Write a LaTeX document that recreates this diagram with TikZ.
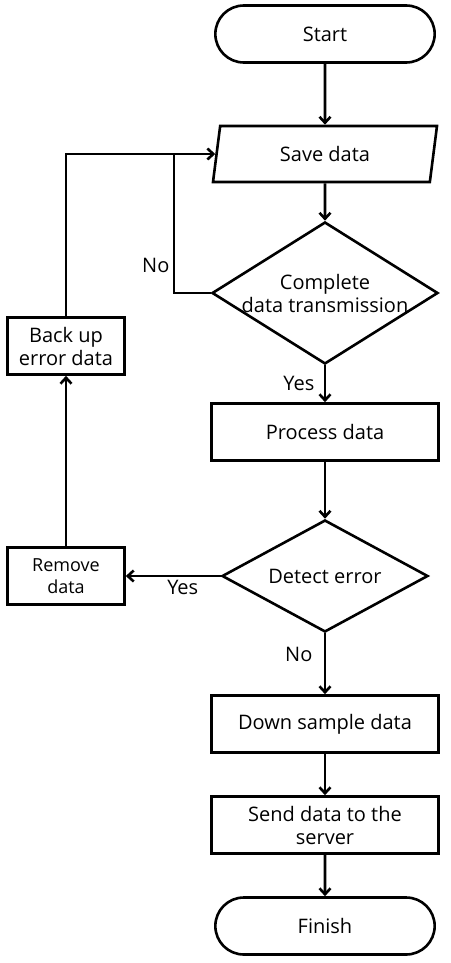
\documentclass[tikz,border=0pt]{standalone}
\usepackage{fontspec}
\setmainfont{Open Sans}
\usetikzlibrary{arrows,arrows.meta,positioning,shapes}
\tikzstyle{terminal}=[rounded rectangle,draw,line width=2.6pt,minimum width=226pt,minimum height=57pt]
\tikzstyle{io}=[trapezium,trapezium left angle=72,trapezium right angle=108,
	trapezium stretches body,draw,line width=2.6pt,minimum width=224pt,minimum height=56pt]
\tikzstyle{process}=[rectangle,draw,line width=2.6pt,minimum width=227pt,minimum height=57pt,align=center]
\tikzstyle{decision}=[diamond,draw,line width=2.6pt,inner sep=-10pt,aspect=1.6,align=center]
\tikzstyle{side}=[rectangle,draw,line width=2.6pt,minimum width=117pt,minimum height=57pt,align=center]
\tikzstyle{flow}=[->,>={Straight Barb[length=6pt,width=11pt]},line width=2.6pt]

\begin{document}
\begin{tikzpicture}[x=1pt,y=-1pt,font=\fontsize{20}{23}\selectfont]
	\useasboundingbox (0,0) rectangle (450,963);

	\node[terminal] (start) at (325,34) {Start};
	\node[io] (save) at (325,154) {Save data};
	\node[decision,minimum width=226pt,minimum height=142pt] (check) at (325,293) {Complete\\data transmission};
	\node[process] (proc) at (325,432) {Process data};
	\node[decision,minimum width=206pt,minimum height=112pt] (detect) at (325,576) {Detect error};
	\node[process] (down) at (325,724) {Down sample data};
	\node[process] (send) at (325,825) {Send data to the\\server};
	\node[terminal] (finish) at (325,926) {Finish};
	\node[side] (backup) at (66,346) {Back up\\error data};
	\node[side,font=\fontsize{18}{22}\selectfont] (remove) at (66,576) {Remove\\data};
	\coordinate (loop) at (174,154);

	\path[flow] (start) edge (save)
		(save) edge (check)
		(check) edge node[left,xshift=-6pt] {Yes} (proc)
		(proc) edge (detect)
		(detect) edge node[pos=0.35,left,xshift=-8pt] {No} (down)
		(down) edge (send)
		(send) edge (finish);

	\draw[line width=2.6pt] (check.west) -| node[pos=0.6,left] {No} (loop);
	\draw[flow] (backup.north) |- (save.west);
	\draw[flow] (detect.west) -- node[pos=0.4,below] {Yes} (remove.east);
	\draw[flow] (remove) -- (backup);
\end{tikzpicture}
\end{document}
